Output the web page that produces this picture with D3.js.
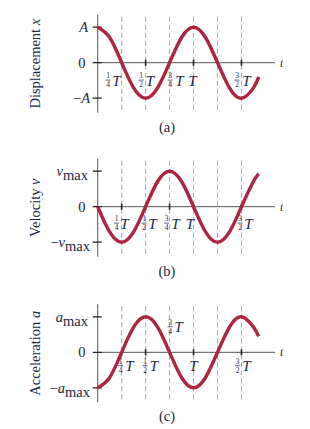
<!DOCTYPE html>
<html>
<head>
<meta charset="utf-8">
<script src="https://cdn.jsdelivr.net/npm/d3@7"></script>
<style>
  body { margin: 0; background: #fff; }
  svg { display: block; }
  text { font-family: "Liberation Serif", "DejaVu Serif", serif; fill: #1b2748; }
</style>
</head>
<body>
<svg width="310" height="429"></svg>
<script>
var times = [0, 0.125, 0.25, 0.375, 0.5, 0.625, 0.75, 0.875, 1, 1.125, 1.25, 1.375, 1.5, 1.625, 1.68];
var displacement = [1, 0.71, 0, -0.71, -1, -0.71, 0, 0.71, 1, 0.71, 0, -0.71, -1, -0.71, -0.4];
var velocity     = [0, -0.71, -1, -0.71, 0, 0.71, 1, 0.71, 0, -0.71, -1, -0.71, 0, 0.71, 0.93];
var acceleration = [-1, -0.71, 0, 0.71, 1, 0.71, 0, -0.71, -1, -0.71, 0, 0.71, 1, 0.71, 0.45];

// dashed guide lines and tick labels on the time axis
var gridTimes = [0.25, 0.5, 0.75, 1, 1.25, 1.5];
var tickTimes = [0.25, 0.5, 0.75, 1, 1.5];
var tickFractions = [["1", "4"], ["1", "2"], ["3", "4"], null, ["3", "2"]];

var panelNames = ["(a)", "(b)", "(c)"];
var axisTitles = [["Displacement ", "x"], ["Velocity ", "v"], ["Acceleration ", "a"]];
var maxLabels = [["A", ""], ["v", "max"], ["a", "max"]];
var series = [displacement, velocity, acceleration];

var svg = d3.select("svg");
var red = "#ad2540";

// layout bits (not data)
var zeroY = [62.7, 206.7, 352.3];
var amp = 35.5;
// per-panel placement of tick labels: [fraction x, T x, baseline offset from zero]
var labelPos = [
  [[108, 116.5, 23], [141, 150, 23], [170, 179.5, 23], [null, 192.5, 23], [237, 246.5, 23]],
  [[116.5, 124.5, 22], [144, 152.5, 22], [166.5, 175.5, 22], [null, 190, 22], [240, 248.5, 22]],
  [[120.5, 129.5, 19], [145, 154, 19], [170, 178.5, -20], [null, 193.3, 19], [237.5, 246.5, 19]]
];

var x = d3.scaleLinear().domain([0, 1.85]).range([97.7, 275]);

var clip = svg.append("defs").append("clipPath").attr("id", "cut");
clip.append("rect").attr("x", 0).attr("y", 0).attr("width", 282.5).attr("height", 429);

var root = svg.append("g").attr("clip-path", "url(#cut)");

series.forEach(function(vals, i) {
  var z = zeroY[i];
  var y = d3.scaleLinear().domain([-1, 1]).range([z + amp, z - amp]);
  var g = root.append("g");
  var top = z - 48, bottom = z + 50;

  // dashed guides
  g.selectAll(".grid").data(gridTimes).enter().append("line")
    .attr("x1", function(d) { return x(d); })
    .attr("x2", function(d) { return x(d); })
    .attr("y1", top + 2).attr("y2", bottom)
    .attr("stroke", "#a6a6a6").attr("stroke-width", 1)
    .attr("stroke-dasharray", "5,3");

  // axes
  g.append("line").attr("x1", x(0)).attr("x2", x(1.85))
    .attr("y1", y(0)).attr("y2", y(0)).attr("stroke", "#555").attr("stroke-width", 1);
  g.append("line").attr("x1", x(0)).attr("x2", x(0))
    .attr("y1", top).attr("y2", bottom).attr("stroke", "#555").attr("stroke-width", 1);

  // y ticks
  g.selectAll(".yt").data([-1, 0, 1]).enter().append("line")
    .attr("x1", x(0) - 5).attr("x2", x(0) + 4)
    .attr("y1", function(d) { return y(d); })
    .attr("y2", function(d) { return y(d); })
    .attr("stroke", "#222").attr("stroke-width", 1.3);

  // x ticks
  g.selectAll(".xt").data(tickTimes).enter().append("line")
    .attr("x1", function(d) { return x(d); })
    .attr("x2", function(d) { return x(d); })
    .attr("y1", y(0) - 3).attr("y2", y(0) + 3)
    .attr("stroke", "#222").attr("stroke-width", 1.6);

  // curve
  var line = d3.line()
    .x(function(d, k) { return x(times[k]); })
    .y(function(d) { return y(d); })
    .curve(d3.curveNatural);
  g.append("path").datum(vals)
    .attr("d", line)
    .attr("fill", "none")
    .attr("stroke", red)
    .attr("stroke-width", 3.4)
    .attr("stroke-linecap", "butt");

  // y labels
  var m = maxLabels[i];
  var yl = g.append("g").attr("font-size", 14.5);
  var t1 = yl.append("text").attr("x", 88).attr("y", y(1) + 5).attr("text-anchor", "end");
  t1.append("tspan").attr("font-style", "italic").text(m[0]);
  if (m[1]) t1.append("tspan").attr("dy", 4).text(m[1]);
  yl.append("text").attr("x", 85.5).attr("y", y(0) + 5).attr("text-anchor", "end").text("0");
  var t2 = yl.append("text").attr("x", 90).attr("y", y(-1) + 5).attr("text-anchor", "end");
  t2.append("tspan").text("\u2212");
  t2.append("tspan").attr("font-style", "italic").text(m[0]);
  if (m[1]) t2.append("tspan").attr("dy", 4).text(m[1]);

  // tick labels on time axis
  tickTimes.forEach(function(tt, k) {
    var p = labelPos[i][k];
    var base = y(0) + p[2];
    var f = tickFractions[k];
    if (f) {
      g.append("text").attr("x", p[0]).attr("y", base - 7.8).attr("font-size", 7.5)
        .attr("text-anchor", "middle").text(f[0]);
      g.append("line").attr("x1", p[0] - 2.5).attr("x2", p[0] + 2.5)
        .attr("y1", base - 5.6).attr("y2", base - 5.6)
        .attr("stroke", "#1b2748").attr("stroke-width", 0.7);
      g.append("text").attr("x", p[0]).attr("y", base + 1.5).attr("font-size", 7.5)
        .attr("text-anchor", "middle").text(f[1]);
    }
    g.append("text").attr("x", p[1]).attr("y", base).attr("font-size", 15)
      .attr("font-style", "italic").attr("text-anchor", "middle").text("T");
  });

  // faint t at axis end
  g.append("text").attr("x", 280).attr("y", y(0) + 4).attr("font-size", 13)
    .attr("font-style", "italic").attr("fill", "#666").text("t");

  // axis title
  var at = g.append("text")
    .attr("transform", "translate(40," + (z + 1) + ") rotate(-90)")
    .attr("text-anchor", "middle").attr("font-size", 14.5);
  at.append("tspan").text(axisTitles[i][0]);
  at.append("tspan").attr("font-style", "italic").text(axisTitles[i][1]);

  // caption
  g.append("text").attr("x", 167).attr("y", z + 69).attr("font-size", 14.5)
    .attr("text-anchor", "middle").text(panelNames[i]);
});
</script>
</body>
</html>
